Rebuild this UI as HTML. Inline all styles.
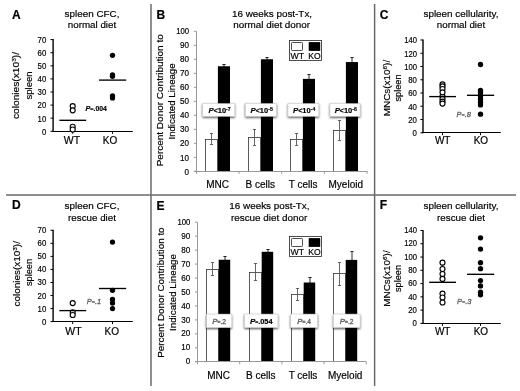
<!DOCTYPE html>
<html lang="en"><head><meta charset="utf-8"><title>Figure</title>
<style>html,body{margin:0;padding:0;background:#fff;}body{width:520px;height:391px;overflow:hidden;}text{stroke:#000;stroke-width:.18px}text.g{stroke:#666;stroke-width:.3px}svg{display:block;font-family:'Liberation Sans', sans-serif;}</style>
</head><body>
<svg width="520" height="391" viewBox="0 0 520 391" role="img" aria-label="Six-panel figure: spleen CFC, donor contribution and spleen cellularity for WT and KO on normal and rescue diets">
<defs><filter id="sh" x="-20%" y="-40%" width="140%" height="200%"><feDropShadow dx="0" dy="1.1" stdDeviation="0.9" flood-color="#000" flood-opacity="0.75"/></filter></defs>
<rect width="520" height="391" fill="#fff"/>
<g stroke="#000" stroke-width="1" fill="#000">
<line x1="151" y1="4" x2="151" y2="386" stroke="#666" stroke-width="1.45"/>
<line x1="374.6" y1="4" x2="374.6" y2="386" stroke="#666" stroke-width="1.45"/>
<line x1="6" y1="194.9" x2="516" y2="194.9" stroke="#6a6a6a" stroke-width="1.5"/>
<text x="12" y="18.8" font-size="12" font-weight="bold">A</text>
<text transform="translate(92 16.6) scale(1.02 1)" font-size="9.7" text-anchor="middle">spleen CFC,</text>
<text transform="translate(92 28.2) scale(1.01 1)" font-size="9.7" text-anchor="middle">normal diet</text>
<line x1="53.1" y1="39.1" x2="53.1" y2="131.8" stroke-width="1.4"/>
<line x1="52.4" y1="131.5" x2="132.8" y2="131.5" stroke-width="1.2"/>
<line x1="50.5" y1="131.3" x2="53.1" y2="131.3"/>
<text transform="translate(46.3 134.6) scale(0.87 1)" font-size="9" text-anchor="end">0</text>
<line x1="50.5" y1="118.2" x2="53.1" y2="118.2"/>
<text transform="translate(46.3 121.5) scale(0.87 1)" font-size="9" text-anchor="end">10</text>
<line x1="50.5" y1="105.1" x2="53.1" y2="105.1"/>
<text transform="translate(46.3 108.4) scale(0.87 1)" font-size="9" text-anchor="end">20</text>
<line x1="50.5" y1="92.0" x2="53.1" y2="92.0"/>
<text transform="translate(46.3 95.3) scale(0.87 1)" font-size="9" text-anchor="end">30</text>
<line x1="50.5" y1="78.9" x2="53.1" y2="78.9"/>
<text transform="translate(46.3 82.2) scale(0.87 1)" font-size="9" text-anchor="end">40</text>
<line x1="50.5" y1="65.8" x2="53.1" y2="65.8"/>
<text transform="translate(46.3 69.1) scale(0.87 1)" font-size="9" text-anchor="end">50</text>
<line x1="50.5" y1="52.7" x2="53.1" y2="52.7"/>
<text transform="translate(46.3 56.0) scale(0.87 1)" font-size="9" text-anchor="end">60</text>
<line x1="50.5" y1="39.6" x2="53.1" y2="39.6"/>
<text transform="translate(46.3 42.9) scale(0.87 1)" font-size="9" text-anchor="end">70</text>
<line x1="72.7" y1="131.3" x2="72.7" y2="133.8"/>
<line x1="112.5" y1="131.3" x2="112.5" y2="133.8"/>
<text transform="translate(71.9 143.8) scale(1.05 1)" font-size="10" text-anchor="middle">WT</text>
<text x="110.0" y="143.8" font-size="10" text-anchor="middle">KO</text>
<text transform="translate(19.4 85.5) rotate(-90) scale(1.097 1)" font-size="9.3" text-anchor="middle">colonies(x10<tspan font-size="6" dy="-3">3</tspan><tspan dy="3">)/</tspan></text>
<text transform="translate(32 85.5) rotate(-90) scale(1.02 1)" font-size="9.3" text-anchor="middle">spleen</text>
<circle cx="72.7" cy="106.15" r="2.5" fill="#fff" stroke-width="1.15"/>
<circle cx="72.7" cy="110.34" r="2.5" fill="#fff" stroke-width="1.15"/>
<circle cx="72.7" cy="126.72" r="2.5" fill="#fff" stroke-width="1.15"/>
<circle cx="72.7" cy="129.47" r="2.5" fill="#fff" stroke-width="1.15"/>
<circle cx="112.5" cy="55.32" r="2.65" stroke="none"/>
<circle cx="112.5" cy="74.97" r="2.65" stroke="none"/>
<circle cx="112.5" cy="76.28" r="2.65" stroke="none"/>
<circle cx="112.5" cy="95.93" r="2.65" stroke="none"/>
<circle cx="112.5" cy="97.90" r="2.65" stroke="none"/>
<line x1="59.400000000000006" y1="120.3" x2="86.2" y2="120.3" stroke-width="1.35"/>
<line x1="99.0" y1="80.1" x2="126.2" y2="80.1" stroke-width="1.35"/>
<text x="85.5" y="110.5" font-size="6.8" font-weight="bold"><tspan font-style="italic" font-size="7.2">P</tspan><tspan font-size="5.5">=</tspan>.004</text>
<text x="12" y="209.4" font-size="12" font-weight="bold">D</text>
<text transform="translate(92 209.1) scale(1.02 1)" font-size="9.7" text-anchor="middle">spleen CFC,</text>
<text transform="translate(92 220.7) scale(1.01 1)" font-size="9.7" text-anchor="middle">rescue diet</text>
<line x1="53.1" y1="229.8" x2="53.1" y2="322.1" stroke-width="1.4"/>
<line x1="52.4" y1="321.5" x2="132.8" y2="321.5" stroke-width="1.2"/>
<line x1="50.5" y1="321.6" x2="53.1" y2="321.6"/>
<text transform="translate(46.3 324.6) scale(0.87 1)" font-size="9" text-anchor="end">0</text>
<line x1="50.5" y1="308.56" x2="53.1" y2="308.56"/>
<text transform="translate(46.3 311.56) scale(0.87 1)" font-size="9" text-anchor="end">10</text>
<line x1="50.5" y1="295.51" x2="53.1" y2="295.51"/>
<text transform="translate(46.3 298.51) scale(0.87 1)" font-size="9" text-anchor="end">20</text>
<line x1="50.5" y1="282.47" x2="53.1" y2="282.47"/>
<text transform="translate(46.3 285.47) scale(0.87 1)" font-size="9" text-anchor="end">30</text>
<line x1="50.5" y1="269.43" x2="53.1" y2="269.43"/>
<text transform="translate(46.3 272.43) scale(0.87 1)" font-size="9" text-anchor="end">40</text>
<line x1="50.5" y1="256.39" x2="53.1" y2="256.39"/>
<text transform="translate(46.3 259.39) scale(0.87 1)" font-size="9" text-anchor="end">50</text>
<line x1="50.5" y1="243.34" x2="53.1" y2="243.34"/>
<text transform="translate(46.3 246.34) scale(0.87 1)" font-size="9" text-anchor="end">60</text>
<line x1="50.5" y1="230.3" x2="53.1" y2="230.3"/>
<text transform="translate(46.3 233.3) scale(0.87 1)" font-size="9" text-anchor="end">70</text>
<line x1="72.7" y1="321.6" x2="72.7" y2="324.1"/>
<line x1="112.5" y1="321.6" x2="112.5" y2="324.1"/>
<text transform="translate(73.5 334.5) scale(1.05 1)" font-size="10" text-anchor="middle">WT</text>
<text x="111.75" y="334.5" font-size="10" text-anchor="middle">KO</text>
<text transform="translate(20.2 273.8) rotate(-90) scale(1.07 1)" font-size="9.3" text-anchor="middle">colonies(x10<tspan font-size="6" dy="-3">3</tspan><tspan dy="3">)/</tspan></text>
<text transform="translate(32 272.5) rotate(-90) scale(0.995 1)" font-size="9.3" text-anchor="middle">spleen</text>
<circle cx="72.7" cy="303.08" r="2.5" fill="#fff" stroke-width="1.15"/>
<circle cx="72.7" cy="312.21" r="2.5" fill="#fff" stroke-width="1.15"/>
<circle cx="72.7" cy="314.95" r="2.5" fill="#fff" stroke-width="1.15"/>
<circle cx="112.5" cy="242.04" r="2.65" stroke="none"/>
<circle cx="112.5" cy="290.30" r="2.65" stroke="none"/>
<circle cx="112.5" cy="299.43" r="2.65" stroke="none"/>
<circle cx="112.5" cy="303.08" r="2.65" stroke="none"/>
<circle cx="112.5" cy="308.56" r="2.65" stroke="none"/>
<line x1="59.400000000000006" y1="310.6" x2="86.2" y2="310.6" stroke-width="1.35"/>
<line x1="99.0" y1="288.5" x2="126.2" y2="288.5" stroke-width="1.35"/>
<text class="g" x="86.8" y="303.6" font-size="7.5" font-style="italic" style="fill:#444"><tspan style="fill:#666">P</tspan><tspan font-size="5.5" style="fill:#666">=</tspan>.1</text>
<text x="379.8" y="18.8" font-size="12" font-weight="bold">C</text>
<text transform="translate(461 16.6) scale(1.02 1)" font-size="9.7" text-anchor="middle">spleen cellularity,</text>
<text transform="translate(461 28.2) scale(1.01 1)" font-size="9.7" text-anchor="middle">normal diet</text>
<line x1="423" y1="39.5" x2="423" y2="133.25" stroke-width="1.4"/>
<line x1="422.3" y1="132.5" x2="500.8" y2="132.5" stroke-width="1.2"/>
<line x1="420.4" y1="132.75" x2="423" y2="132.75"/>
<text transform="translate(416.9 136.05) scale(0.87 1)" font-size="9" text-anchor="end">0</text>
<line x1="420.4" y1="119.5" x2="423" y2="119.5"/>
<text transform="translate(416.9 122.8) scale(0.87 1)" font-size="9" text-anchor="end">20</text>
<line x1="420.4" y1="106.25" x2="423" y2="106.25"/>
<text transform="translate(416.9 109.55) scale(0.87 1)" font-size="9" text-anchor="end">40</text>
<line x1="420.4" y1="93.0" x2="423" y2="93.0"/>
<text transform="translate(416.9 96.3) scale(0.87 1)" font-size="9" text-anchor="end">60</text>
<line x1="420.4" y1="79.75" x2="423" y2="79.75"/>
<text transform="translate(416.9 83.05) scale(0.87 1)" font-size="9" text-anchor="end">80</text>
<line x1="420.4" y1="66.5" x2="423" y2="66.5"/>
<text transform="translate(416.9 69.8) scale(0.85 1)" font-size="9" text-anchor="end">100</text>
<line x1="420.4" y1="53.25" x2="423" y2="53.25"/>
<text transform="translate(416.9 56.55) scale(0.85 1)" font-size="9" text-anchor="end">120</text>
<line x1="420.4" y1="40.0" x2="423" y2="40.0"/>
<text transform="translate(416.9 43.3) scale(0.85 1)" font-size="9" text-anchor="end">140</text>
<line x1="442.5" y1="132.75" x2="442.5" y2="135.25"/>
<line x1="480.5" y1="132.75" x2="480.5" y2="135.25"/>
<text x="442.7" y="143.8" font-size="10" text-anchor="middle">WT</text>
<text x="480.9" y="143.8" font-size="10" text-anchor="middle">KO</text>
<text transform="translate(389.6 88) rotate(-90) scale(1.064 1)" font-size="9.3" text-anchor="middle">MNCs(x10<tspan font-size="6" dy="-3">6</tspan><tspan dy="3">)/</tspan></text>
<text transform="translate(400.9 88) rotate(-90) scale(0.99 1)" font-size="9.3" text-anchor="middle">spleen</text>
<circle cx="442.5" cy="84.39" r="2.5" fill="#fff" stroke-width="1.15"/>
<circle cx="442.5" cy="86.38" r="2.5" fill="#fff" stroke-width="1.15"/>
<circle cx="442.5" cy="89.03" r="2.5" fill="#fff" stroke-width="1.15"/>
<circle cx="442.5" cy="96.31" r="2.5" fill="#fff" stroke-width="1.15"/>
<circle cx="442.5" cy="98.96" r="2.5" fill="#fff" stroke-width="1.15"/>
<circle cx="442.5" cy="101.61" r="2.5" fill="#fff" stroke-width="1.15"/>
<circle cx="442.5" cy="103.60" r="2.5" fill="#fff" stroke-width="1.15"/>
<circle cx="442.5" cy="92.34" r="2.5" fill="#fff" stroke-width="1.15"/>
<circle cx="480.5" cy="64.51" r="2.65" stroke="none"/>
<circle cx="480.5" cy="90.35" r="2.65" stroke="none"/>
<circle cx="480.5" cy="92.34" r="2.65" stroke="none"/>
<circle cx="480.5" cy="94.99" r="2.65" stroke="none"/>
<circle cx="480.5" cy="96.97" r="2.65" stroke="none"/>
<circle cx="480.5" cy="99.62" r="2.65" stroke="none"/>
<circle cx="480.5" cy="102.28" r="2.65" stroke="none"/>
<circle cx="480.5" cy="104.92" r="2.65" stroke="none"/>
<circle cx="480.5" cy="114.20" r="2.65" stroke="none"/>
<line x1="429.2" y1="96.6" x2="456.0" y2="96.6" stroke-width="1.35"/>
<line x1="467.0" y1="95.3" x2="494.2" y2="95.3" stroke-width="1.35"/>
<text class="g" x="456.5" y="117" font-size="7.5" font-style="italic" style="fill:#444"><tspan style="fill:#666">P</tspan><tspan font-size="5.5" style="fill:#666">=</tspan>.8</text>
<text x="379.8" y="209.4" font-size="12" font-weight="bold">F</text>
<text transform="translate(461 209.1) scale(1.02 1)" font-size="9.7" text-anchor="middle">spleen cellularity,</text>
<text transform="translate(461 220.7) scale(1.01 1)" font-size="9.7" text-anchor="middle">rescue diet</text>
<line x1="423" y1="230.0" x2="423" y2="323.9" stroke-width="1.4"/>
<line x1="422.3" y1="323.5" x2="500.8" y2="323.5" stroke-width="1.2"/>
<line x1="420.4" y1="323.4" x2="423" y2="323.4"/>
<text transform="translate(416.9 326.1) scale(0.87 1)" font-size="9" text-anchor="end">0</text>
<line x1="420.4" y1="310.13" x2="423" y2="310.13"/>
<text transform="translate(416.9 312.83) scale(0.87 1)" font-size="9" text-anchor="end">20</text>
<line x1="420.4" y1="296.86" x2="423" y2="296.86"/>
<text transform="translate(416.9 299.56) scale(0.87 1)" font-size="9" text-anchor="end">40</text>
<line x1="420.4" y1="283.59" x2="423" y2="283.59"/>
<text transform="translate(416.9 286.29) scale(0.87 1)" font-size="9" text-anchor="end">60</text>
<line x1="420.4" y1="270.31" x2="423" y2="270.31"/>
<text transform="translate(416.9 273.01) scale(0.87 1)" font-size="9" text-anchor="end">80</text>
<line x1="420.4" y1="257.04" x2="423" y2="257.04"/>
<text transform="translate(416.9 259.74) scale(0.85 1)" font-size="9" text-anchor="end">100</text>
<line x1="420.4" y1="243.77" x2="423" y2="243.77"/>
<text transform="translate(416.9 246.47) scale(0.85 1)" font-size="9" text-anchor="end">120</text>
<line x1="420.4" y1="230.5" x2="423" y2="230.5"/>
<text transform="translate(416.9 233.2) scale(0.85 1)" font-size="9" text-anchor="end">140</text>
<line x1="442.5" y1="323.4" x2="442.5" y2="325.9"/>
<line x1="480.5" y1="323.4" x2="480.5" y2="325.9"/>
<text x="442.7" y="334.5" font-size="10" text-anchor="middle">WT</text>
<text x="480.9" y="334.5" font-size="10" text-anchor="middle">KO</text>
<text transform="translate(389.5 278.5) rotate(-90) scale(1.064 1)" font-size="9.3" text-anchor="middle">MNCs(x10<tspan font-size="6" dy="-3">6</tspan><tspan dy="3">)/</tspan></text>
<text transform="translate(400.8 278.5) rotate(-90) scale(0.99 1)" font-size="9.3" text-anchor="middle">spleen</text>
<circle cx="442.5" cy="262.68" r="2.5" fill="#fff" stroke-width="1.15"/>
<circle cx="442.5" cy="268.99" r="2.5" fill="#fff" stroke-width="1.15"/>
<circle cx="442.5" cy="273.96" r="2.5" fill="#fff" stroke-width="1.15"/>
<circle cx="442.5" cy="278.94" r="2.5" fill="#fff" stroke-width="1.15"/>
<circle cx="442.5" cy="293.67" r="2.5" fill="#fff" stroke-width="1.15"/>
<circle cx="442.5" cy="297.52" r="2.5" fill="#fff" stroke-width="1.15"/>
<circle cx="442.5" cy="302.50" r="2.5" fill="#fff" stroke-width="1.15"/>
<circle cx="480.5" cy="237.80" r="2.65" stroke="none"/>
<circle cx="480.5" cy="249.08" r="2.65" stroke="none"/>
<circle cx="480.5" cy="262.68" r="2.65" stroke="none"/>
<circle cx="480.5" cy="268.66" r="2.65" stroke="none"/>
<circle cx="480.5" cy="280.60" r="2.65" stroke="none"/>
<circle cx="480.5" cy="285.91" r="2.65" stroke="none"/>
<circle cx="480.5" cy="292.21" r="2.65" stroke="none"/>
<circle cx="480.5" cy="294.87" r="2.65" stroke="none"/>
<line x1="429.2" y1="282.3" x2="456.0" y2="282.3" stroke-width="1.35"/>
<line x1="467.0" y1="274.3" x2="494.2" y2="274.3" stroke-width="1.35"/>
<text class="g" x="456.9" y="303.9" font-size="7.5" font-style="italic" style="fill:#444"><tspan style="fill:#666">P</tspan><tspan font-size="5.5" style="fill:#666">=</tspan>.3</text>
<text x="156.5" y="18.8" font-size="12" font-weight="bold">B</text>
<text transform="translate(272 16.6) scale(1.02 1)" font-size="9.7" text-anchor="middle">16 weeks post-Tx,</text>
<text transform="translate(271.7 28.2) scale(1.02 1)" font-size="9.7" text-anchor="middle">normal diet donor</text>
<rect x="205.5" y="139.5" width="12" height="32.00" fill="#fff" stroke="#333" stroke-width="0.8"/>
<rect x="217.9" y="66.26" width="12.1" height="105.04" stroke="none"/>
<path d="M211.5 133.5V144.5M209.9 133.5h3.2M209.9 144.5h3.2" fill="none" stroke="#555" stroke-width="0.9"/>
<path d="M224.0 64.5V68.5M222.4 64.5h3.2M222.4 68.5h3.2" fill="none" stroke="#111" stroke-width="0.9"/>
<rect x="248.5" y="137.5" width="12" height="34.00" fill="#fff" stroke="#333" stroke-width="0.8"/>
<rect x="260.9" y="59.26" width="12.1" height="112.04" stroke="none"/>
<path d="M254.5 129.5V145.5M252.9 129.5h3.2M252.9 145.5h3.2" fill="none" stroke="#555" stroke-width="0.9"/>
<path d="M267.0 57.5V61.5M265.4 57.5h3.2M265.4 61.5h3.2" fill="none" stroke="#111" stroke-width="0.9"/>
<rect x="290.5" y="139.5" width="12" height="32.00" fill="#fff" stroke="#333" stroke-width="0.8"/>
<rect x="302.9" y="78.87" width="12.1" height="92.43" stroke="none"/>
<path d="M296.5 133.5V145.5M294.9 133.5h3.2M294.9 145.5h3.2" fill="none" stroke="#555" stroke-width="0.9"/>
<path d="M309.0 74.5V83.5M307.4 74.5h3.2M307.4 83.5h3.2" fill="none" stroke="#111" stroke-width="0.9"/>
<rect x="333.5" y="130.5" width="12" height="41.00" fill="#fff" stroke="#333" stroke-width="0.8"/>
<rect x="345.9" y="62.06" width="12.1" height="109.24" stroke="none"/>
<path d="M339.5 120.5V140.5M337.9 120.5h3.2M337.9 140.5h3.2" fill="none" stroke="#555" stroke-width="0.9"/>
<path d="M352.0 57.5V66.5M350.4 57.5h3.2M350.4 66.5h3.2" fill="none" stroke="#111" stroke-width="0.9"/>
<line x1="196.5" y1="31.25" x2="196.5" y2="173.8" stroke="#999"/>
<line x1="193.8" y1="171.5" x2="367.1" y2="171.5" stroke="#999"/>
<line x1="239.0" y1="171.3" x2="239.0" y2="173.8" stroke="#999"/>
<line x1="281.70000000000005" y1="171.3" x2="281.70000000000005" y2="173.8" stroke="#999"/>
<line x1="324.40000000000003" y1="171.3" x2="324.40000000000003" y2="173.8" stroke="#999"/>
<line x1="367.1" y1="171.3" x2="367.1" y2="173.8" stroke="#999"/>
<line x1="193.8" y1="171.3" x2="196.3" y2="171.3" stroke="#999"/>
<text transform="translate(189.10000000000002 174.5) scale(0.9 1)" font-size="9" text-anchor="end">0</text>
<line x1="193.8" y1="157.29500000000002" x2="196.3" y2="157.29500000000002" stroke="#999"/>
<text transform="translate(189.10000000000002 160.5) scale(0.9 1)" font-size="9" text-anchor="end">10</text>
<line x1="193.8" y1="143.29000000000002" x2="196.3" y2="143.29000000000002" stroke="#999"/>
<text transform="translate(189.10000000000002 146.49) scale(0.9 1)" font-size="9" text-anchor="end">20</text>
<line x1="193.8" y1="129.28500000000003" x2="196.3" y2="129.28500000000003" stroke="#999"/>
<text transform="translate(189.10000000000002 132.49) scale(0.9 1)" font-size="9" text-anchor="end">30</text>
<line x1="193.8" y1="115.28" x2="196.3" y2="115.28" stroke="#999"/>
<text transform="translate(189.10000000000002 118.48) scale(0.9 1)" font-size="9" text-anchor="end">40</text>
<line x1="193.8" y1="101.275" x2="196.3" y2="101.275" stroke="#999"/>
<text transform="translate(189.10000000000002 104.48) scale(0.9 1)" font-size="9" text-anchor="end">50</text>
<line x1="193.8" y1="87.27000000000001" x2="196.3" y2="87.27000000000001" stroke="#999"/>
<text transform="translate(189.10000000000002 90.47) scale(0.9 1)" font-size="9" text-anchor="end">60</text>
<line x1="193.8" y1="73.26500000000001" x2="196.3" y2="73.26500000000001" stroke="#999"/>
<text transform="translate(189.10000000000002 76.47) scale(0.9 1)" font-size="9" text-anchor="end">70</text>
<line x1="193.8" y1="59.260000000000005" x2="196.3" y2="59.260000000000005" stroke="#999"/>
<text transform="translate(189.10000000000002 62.46) scale(0.9 1)" font-size="9" text-anchor="end">80</text>
<line x1="193.8" y1="45.254999999999995" x2="196.3" y2="45.254999999999995" stroke="#999"/>
<text transform="translate(189.10000000000002 48.45) scale(0.9 1)" font-size="9" text-anchor="end">90</text>
<line x1="193.8" y1="31.25" x2="196.3" y2="31.25" stroke="#999"/>
<text transform="translate(189.10000000000002 34.45) scale(0.86 1)" font-size="9" text-anchor="end">100</text>
<text x="217.65" y="188.2" font-size="10" text-anchor="middle">MNC</text>
<text x="260.35" y="188.2" font-size="10" text-anchor="middle">B cells</text>
<text x="303.05" y="188.2" font-size="10" text-anchor="middle">T cells</text>
<text x="345.75" y="188.2" font-size="10" text-anchor="middle">Myeloid</text>
<text transform="translate(163.4 100.275) rotate(-90) scale(1.075 1)" font-size="9.3" text-anchor="middle">Percent Donor Contribution to</text>
<text transform="translate(174.6 101.47500000000001) rotate(-90) scale(1.038 1)" font-size="9.3" text-anchor="middle">Indicated Lineage</text>
<rect x="289.5" y="40.5" width="32" height="20" fill="#fff" stroke="#222" stroke-width="0.8"/>
<rect x="291.5" y="42.5" width="11" height="8" rx="0.8" fill="#fff" stroke="#222" stroke-width="0.8"/>
<rect x="308.7" y="42.1" width="11.5" height="8.8" stroke="none"/>
<text transform="translate(297.2 58.8) scale(0.97 1)" font-size="9" text-anchor="middle">WT</text>
<text transform="translate(314.4 58.8) scale(0.95 1)" font-size="9" text-anchor="middle">KO</text>
<rect x="202.8" y="103.6" width="32" height="12.6" fill="#fff" stroke="#c8c8c8" stroke-width="0.5" filter="url(#sh)"/>
<text x="219.6" y="112.6" text-anchor="middle" font-size="6" font-weight="bold"><tspan font-style="italic" font-size="7.8">P</tspan><tspan font-size="7" font-weight="bold">&lt;</tspan><tspan font-size="7.5">10</tspan><tspan font-size="5.2" dy="-1.7">-7</tspan></text>
<rect x="245.4" y="103.6" width="31" height="12.6" fill="#fff" stroke="#c8c8c8" stroke-width="0.5" filter="url(#sh)"/>
<text x="261.7" y="112.6" text-anchor="middle" font-size="6" font-weight="bold"><tspan font-style="italic" font-size="7.8">P</tspan><tspan font-size="7" font-weight="bold">&lt;</tspan><tspan font-size="7.5">10</tspan><tspan font-size="5.2" dy="-1.7">-5</tspan></text>
<rect x="288" y="103.6" width="30.8" height="12.6" fill="#fff" stroke="#c8c8c8" stroke-width="0.5" filter="url(#sh)"/>
<text x="304.2" y="112.6" text-anchor="middle" font-size="6" font-weight="bold"><tspan font-style="italic" font-size="7.8">P</tspan><tspan font-size="7" font-weight="bold">&lt;</tspan><tspan font-size="7.5">10</tspan><tspan font-size="5.2" dy="-1.7">-4</tspan></text>
<rect x="330" y="103.6" width="30" height="12.6" fill="#fff" stroke="#c8c8c8" stroke-width="0.5" filter="url(#sh)"/>
<text x="345.8" y="112.6" text-anchor="middle" font-size="6" font-weight="bold"><tspan font-style="italic" font-size="7.8">P</tspan><tspan font-size="7" font-weight="bold">&lt;</tspan><tspan font-size="7.5">10</tspan><tspan font-size="5.2" dy="-1.7">-6</tspan></text>
<text x="156.5" y="210.1" font-size="12" font-weight="bold">E</text>
<text transform="translate(269.4 209.1) scale(1.02 1)" font-size="9.7" text-anchor="middle">16 weeks post-Tx,</text>
<text transform="translate(269.09999999999997 220.7) scale(1.02 1)" font-size="9.7" text-anchor="middle">rescue diet donor</text>
<rect x="206.5" y="269.5" width="12" height="92.00" fill="#fff" stroke="#333" stroke-width="0.8"/>
<rect x="218.7" y="259.75" width="11.5" height="102.05" stroke="none"/>
<path d="M212.5 262.5V275.5M210.9 262.5h3.2M210.9 275.5h3.2" fill="none" stroke="#555" stroke-width="0.9"/>
<path d="M225.0 256.5V262.5M223.4 256.5h3.2M223.4 262.5h3.2" fill="none" stroke="#111" stroke-width="0.9"/>
<rect x="249.5" y="272.5" width="12" height="89.00" fill="#fff" stroke="#333" stroke-width="0.8"/>
<rect x="261.7" y="251.80" width="11.5" height="110.00" stroke="none"/>
<path d="M255.5 263.5V280.5M253.9 263.5h3.2M253.9 280.5h3.2" fill="none" stroke="#555" stroke-width="0.9"/>
<path d="M268.0 249.5V254.5M266.4 249.5h3.2M266.4 254.5h3.2" fill="none" stroke="#111" stroke-width="0.9"/>
<rect x="291.5" y="294.5" width="12" height="67.00" fill="#fff" stroke="#333" stroke-width="0.8"/>
<rect x="303.7" y="282.51" width="11.5" height="79.29" stroke="none"/>
<path d="M297.5 288.5V300.5M295.9 288.5h3.2M295.9 300.5h3.2" fill="none" stroke="#555" stroke-width="0.9"/>
<path d="M310.0 277.5V287.5M308.4 277.5h3.2M308.4 287.5h3.2" fill="none" stroke="#111" stroke-width="0.9"/>
<rect x="333.5" y="273.5" width="12" height="88.00" fill="#fff" stroke="#333" stroke-width="0.8"/>
<rect x="345.7" y="259.89" width="11.5" height="101.91" stroke="none"/>
<path d="M339.5 262.5V285.5M337.9 262.5h3.2M337.9 285.5h3.2" fill="none" stroke="#555" stroke-width="0.9"/>
<path d="M352.0 251.5V268.5M350.4 251.5h3.2M350.4 268.5h3.2" fill="none" stroke="#111" stroke-width="0.9"/>
<line x1="197.5" y1="222.2" x2="197.5" y2="364.3" stroke="#999"/>
<line x1="195.0" y1="361.5" x2="366.3" y2="361.5" stroke="#999"/>
<line x1="239.7" y1="361.8" x2="239.7" y2="364.3" stroke="#999"/>
<line x1="281.9" y1="361.8" x2="281.9" y2="364.3" stroke="#999"/>
<line x1="324.1" y1="361.8" x2="324.1" y2="364.3" stroke="#999"/>
<line x1="366.3" y1="361.8" x2="366.3" y2="364.3" stroke="#999"/>
<line x1="195.0" y1="361.8" x2="197.5" y2="361.8" stroke="#999"/>
<text transform="translate(190.3 364.4) scale(0.9 1)" font-size="9" text-anchor="end">0</text>
<line x1="195.0" y1="347.84000000000003" x2="197.5" y2="347.84000000000003" stroke="#999"/>
<text transform="translate(190.3 350.44) scale(0.9 1)" font-size="9" text-anchor="end">10</text>
<line x1="195.0" y1="333.88" x2="197.5" y2="333.88" stroke="#999"/>
<text transform="translate(190.3 336.48) scale(0.9 1)" font-size="9" text-anchor="end">20</text>
<line x1="195.0" y1="319.92" x2="197.5" y2="319.92" stroke="#999"/>
<text transform="translate(190.3 322.52) scale(0.9 1)" font-size="9" text-anchor="end">30</text>
<line x1="195.0" y1="305.96" x2="197.5" y2="305.96" stroke="#999"/>
<text transform="translate(190.3 308.56) scale(0.9 1)" font-size="9" text-anchor="end">40</text>
<line x1="195.0" y1="292.0" x2="197.5" y2="292.0" stroke="#999"/>
<text transform="translate(190.3 294.6) scale(0.9 1)" font-size="9" text-anchor="end">50</text>
<line x1="195.0" y1="278.03999999999996" x2="197.5" y2="278.03999999999996" stroke="#999"/>
<text transform="translate(190.3 280.64) scale(0.9 1)" font-size="9" text-anchor="end">60</text>
<line x1="195.0" y1="264.08" x2="197.5" y2="264.08" stroke="#999"/>
<text transform="translate(190.3 266.68) scale(0.9 1)" font-size="9" text-anchor="end">70</text>
<line x1="195.0" y1="250.12" x2="197.5" y2="250.12" stroke="#999"/>
<text transform="translate(190.3 252.72) scale(0.9 1)" font-size="9" text-anchor="end">80</text>
<line x1="195.0" y1="236.16" x2="197.5" y2="236.16" stroke="#999"/>
<text transform="translate(190.3 238.76) scale(0.9 1)" font-size="9" text-anchor="end">90</text>
<line x1="195.0" y1="222.2" x2="197.5" y2="222.2" stroke="#999"/>
<text transform="translate(190.3 224.8) scale(0.86 1)" font-size="9" text-anchor="end">100</text>
<text x="218.6" y="379.1" font-size="10" text-anchor="middle">MNC</text>
<text x="260.8" y="379.1" font-size="10" text-anchor="middle">B cells</text>
<text x="303.0" y="379.1" font-size="10" text-anchor="middle">T cells</text>
<text x="345.2" y="379.1" font-size="10" text-anchor="middle">Myeloid</text>
<text transform="translate(164.2 292.6) rotate(-90) scale(1.061 1)" font-size="9.3" text-anchor="middle">Percent Donor Contribution to</text>
<text transform="translate(175.8 292.5) rotate(-90) scale(1.048 1)" font-size="9.3" text-anchor="middle">Indicated Lineage</text>
<rect x="289.5" y="236.5" width="32" height="20" fill="#fff" stroke="#222" stroke-width="0.8"/>
<rect x="291.5" y="238.5" width="11" height="8" rx="0.8" fill="#fff" stroke="#222" stroke-width="0.8"/>
<rect x="308.7" y="238.1" width="11.5" height="8.8" stroke="none"/>
<text transform="translate(297.2 254.8) scale(0.97 1)" font-size="9" text-anchor="middle">WT</text>
<text transform="translate(314.4 254.8) scale(0.95 1)" font-size="9" text-anchor="middle">KO</text>
<rect x="206.4" y="314.1" width="25.4" height="13.4" fill="#fff" stroke="#c8c8c8" stroke-width="0.5" filter="url(#sh)"/>
<text x="219.1" y="323.5" text-anchor="middle" font-size="6" class="g" style="fill:#444"><tspan font-style="italic" font-size="7.8">P</tspan><tspan font-size="5" font-weight="bold">=</tspan><tspan font-size="6.6">.2</tspan></text>
<rect x="244.6" y="314.1" width="33.3" height="13.4" fill="#fff" stroke="#c8c8c8" stroke-width="0.5" filter="url(#sh)"/>
<text x="261.25" y="323.5" text-anchor="middle" font-size="6" font-weight="bold"><tspan font-style="italic" font-size="8">P</tspan><tspan font-size="5" font-weight="bold">=</tspan><tspan font-size="7.4">.054</tspan></text>
<rect x="290.8" y="314.1" width="26.6" height="13.4" fill="#fff" stroke="#c8c8c8" stroke-width="0.5" filter="url(#sh)"/>
<text x="304.1" y="323.5" text-anchor="middle" font-size="6" class="g" style="fill:#444"><tspan font-style="italic" font-size="7.8">P</tspan><tspan font-size="5" font-weight="bold">=</tspan><tspan font-size="6.6">.4</tspan></text>
<rect x="333.2" y="314.1" width="26.8" height="13.4" fill="#fff" stroke="#c8c8c8" stroke-width="0.5" filter="url(#sh)"/>
<text x="346.6" y="323.5" text-anchor="middle" font-size="6" class="g" style="fill:#444"><tspan font-style="italic" font-size="7.8">P</tspan><tspan font-size="5" font-weight="bold">=</tspan><tspan font-size="6.6">.2</tspan></text>
</g>
</svg>
</body></html>
